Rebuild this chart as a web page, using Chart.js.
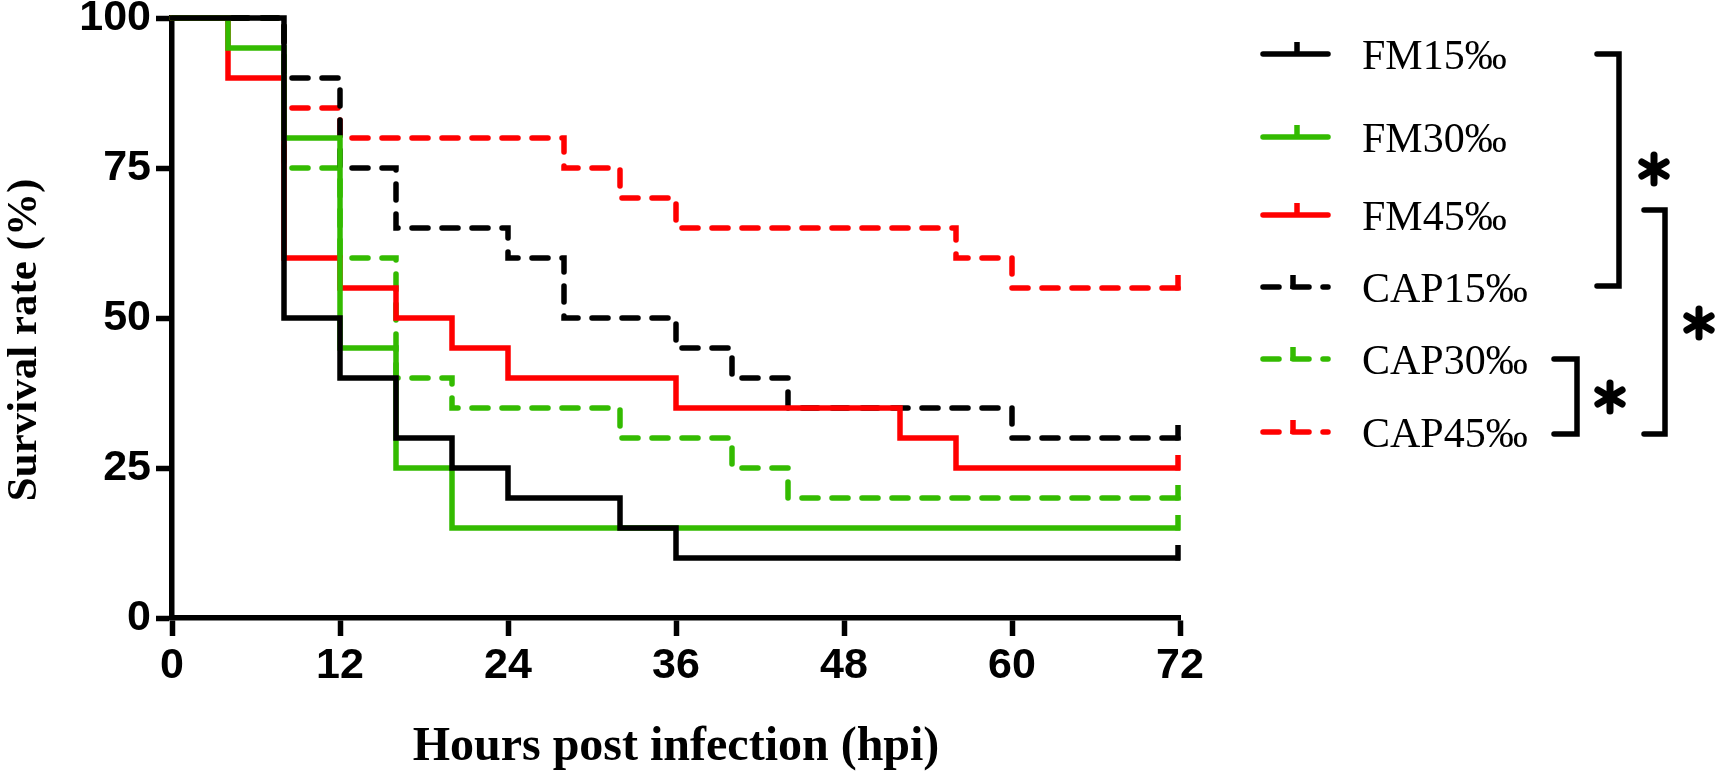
<!DOCTYPE html>
<html>
<head>
<meta charset="utf-8">
<script src="https://cdn.jsdelivr.net/npm/chart.js@4.4.1/dist/chart.umd.min.js"></script>
<style>
  html, body { margin: 0; padding: 0; background: #fff; }
  canvas { display: block; }
</style>
</head>
<body>
<canvas id="survival" width="1716" height="774"></canvas>
<script>
// tick labels
const xTicks = [0, 12, 24, 36, 48, 60, 72];
const yTicks = [0, 25, 50, 75, 100];

// Kaplan-Meier steps: hours post infection / survival (%)
const fm15Hours = [0, 8, 12, 16, 20, 24, 32, 36, 72];
const fm15Surv  = [100, 50, 40, 30, 25, 20, 15, 10, 10];
const fm30Hours = [0, 4, 8, 12, 16, 20, 72];
const fm30Surv  = [100, 95, 80, 45, 25, 15, 15];
const fm45Hours = [0, 4, 8, 12, 16, 20, 24, 36, 52, 56, 72];
const fm45Surv  = [100, 90, 60, 55, 50, 45, 40, 35, 30, 25, 25];
const cap15Hours = [0, 8, 12, 16, 24, 28, 36, 40, 44, 60, 72];
const cap15Surv  = [100, 90, 75, 65, 60, 50, 45, 40, 35, 30, 30];
const cap30Hours = [0, 8, 12, 16, 20, 32, 40, 44, 72];
const cap30Surv  = [100, 75, 60, 40, 35, 30, 25, 20, 20];
const cap45Hours = [0, 8, 12, 28, 32, 36, 56, 60, 72];
const cap45Surv  = [100, 85, 80, 75, 70, 65, 60, 55, 55];

const BLACK = '#000000', GREEN = '#33bb00', RED = '#ff0000';
const LW = 5.5;

function series(label, hours, surv, color, dashed) {
  return {
    label: label,
    data: hours.map((h, i) => ({ x: h, y: surv[i] })),
    borderColor: color,
    backgroundColor: color,
    borderWidth: LW,
    borderDash: dashed ? [16, 14] : [],
    borderCapStyle: dashed ? 'round' : 'butt',
    borderJoinStyle: 'miter',
    stepped: 'before',
    pointRadius: 0,
    fill: false,
    clip: 8
  };
}

// censor tick at the end of every curve
const censorTicks = {
  id: 'censorTicks',
  afterDatasetsDraw(chart) {
    const ctx = chart.ctx;
    chart.data.datasets.forEach((ds, i) => {
      const pts = chart.getDatasetMeta(i).data;
      const last = pts[pts.length - 1];
      ctx.save();
      ctx.strokeStyle = ds.borderColor;
      ctx.lineWidth = LW;
      ctx.beginPath();
      ctx.moveTo(last.x - 2, last.y + 2.5);
      ctx.lineTo(last.x - 2, last.y - 13);
      ctx.stroke();
      ctx.restore();
    });
  }
};

function star(ctx, cx, cy) {
  ctx.save();
  ctx.strokeStyle = '#000';
  ctx.lineWidth = 7;
  for (const a of [90, 30, -30]) {
    const r = a * Math.PI / 180;
    ctx.beginPath();
    ctx.moveTo(cx - 14 * Math.cos(r), cy - 14 * Math.sin(r));
    ctx.lineTo(cx + 14 * Math.cos(r), cy + 14 * Math.sin(r));
    ctx.stroke();
  }
  ctx.restore();
}

// legend, brackets, axis titles
const sideLegend = {
  id: 'sideLegend',
  afterDraw(chart) {
    const ctx = chart.ctx;
    const rows = [54, 137, 215, 287, 359, 432];
    chart.data.datasets.forEach((ds, i) => {
      const y = rows[i];
      const dashed = ds.borderDash.length > 0;
      ctx.save();
      ctx.strokeStyle = ds.borderColor;
      ctx.lineWidth = LW;
      ctx.lineCap = 'round';
      ctx.setLineDash(ds.borderDash);
      ctx.beginPath();
      ctx.moveTo(1263, y);
      ctx.lineTo(1328, y);
      ctx.stroke();
      ctx.setLineDash([]);
      ctx.lineCap = 'butt';
      const tx = dashed ? 1293 : 1297;
      ctx.beginPath();
      ctx.moveTo(tx, y + 2);
      ctx.lineTo(tx, y - 12);
      ctx.stroke();
      ctx.fillStyle = '#000';
      ctx.font = '42px "Liberation Serif"';
      ctx.textBaseline = 'alphabetic';
      ctx.textAlign = 'left';
      ctx.fillText(ds.label, 1362, y + 15);
      ctx.restore();
    });

    const brackets = [
      { top: 54, bottom: 286, x: 1619, left: 1597, sx: 1654, sy: 169 },
      { top: 210, bottom: 434, x: 1665, left: 1644, sx: 1699, sy: 323 },
      { top: 359, bottom: 434, x: 1577, left: 1554, sx: 1610, sy: 397 }
    ];
    ctx.save();
    ctx.strokeStyle = '#000';
    ctx.lineWidth = LW;
    ctx.lineJoin = 'miter';
    ctx.lineCap = 'round';
    brackets.forEach(b => {
      ctx.beginPath();
      ctx.moveTo(b.left, b.top);
      ctx.lineTo(b.x, b.top);
      ctx.lineTo(b.x, b.bottom);
      ctx.lineTo(b.left, b.bottom);
      ctx.stroke();
      star(ctx, b.sx, b.sy);
    });
    ctx.restore();

    ctx.save();
    ctx.fillStyle = '#000';
    ctx.textAlign = 'center';
    ctx.textBaseline = 'middle';
    ctx.font = 'bold 48px "Liberation Serif"';
    ctx.fillText('Hours post infection (hpi)', 676, 748);
    ctx.translate(25, 340);
    ctx.rotate(-Math.PI / 2);
    ctx.font = 'bold 43px "Liberation Serif"';
    ctx.fillText('Survival rate (%)', 0, 0);
    ctx.restore();
  }
};

const tickFont = { family: 'Liberation Sans', size: 43, weight: 'bold' };

new Chart(document.getElementById('survival'), {
  type: 'line',
  data: {
    datasets: [
      series('FM15‰', fm15Hours, fm15Surv, BLACK, false),
      series('FM30‰', fm30Hours, fm30Surv, GREEN, false),
      series('FM45‰', fm45Hours, fm45Surv, RED, false),
      series('CAP15‰', cap15Hours, cap15Surv, BLACK, true),
      series('CAP30‰', cap30Hours, cap30Surv, GREEN, true),
      series('CAP45‰', cap45Hours, cap45Surv, RED, true)
    ]
  },
  options: {
    responsive: false,
    animation: false,
    devicePixelRatio: 1,
    layout: { padding: { top: 18, right: 536, bottom: 0, left: 0 } },
    plugins: { legend: { display: false }, tooltip: { enabled: false } },
    scales: {
      x: {
        type: 'linear',
        min: 0,
        max: 72,
        afterBuildTicks: s => { s.ticks = xTicks.map(v => ({ value: v })); },
        afterFit: s => { s.height = 156; s.paddingLeft = 0; s.paddingRight = 0; },
        ticks: { font: tickFont, color: '#000', padding: 4, maxRotation: 0, autoSkip: false },
        grid: { drawOnChartArea: false, drawTicks: true, tickLength: 18, tickWidth: LW, tickColor: '#000' },
        border: { display: true, width: LW, color: '#000' }
      },
      y: {
        type: 'linear',
        min: 0,
        max: 100,
        afterBuildTicks: s => { s.ticks = yTicks.map(v => ({ value: v })); },
        afterFit: s => { s.width = 172; s.paddingTop = 0; s.paddingBottom = 0; },
        ticks: { font: tickFont, color: '#000', padding: 5, autoSkip: false },
        grid: { drawOnChartArea: false, drawTicks: true, tickLength: 16, tickWidth: LW, tickColor: '#000' },
        border: { display: true, width: LW, color: '#000' }
      }
    }
  },
  plugins: [censorTicks, sideLegend]
});
</script>
</body>
</html>
